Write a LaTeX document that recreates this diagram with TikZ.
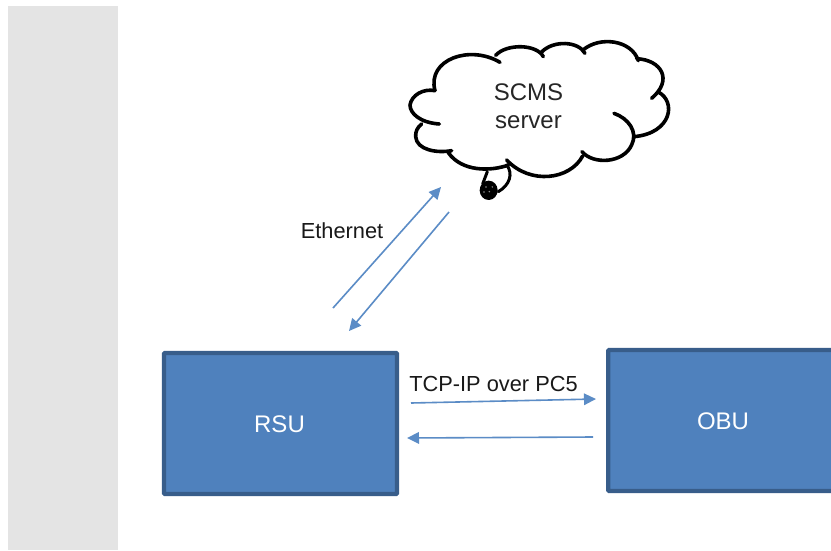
\documentclass[tikz,border=0pt]{standalone}
\usepackage{fontspec}
\setmainfont{Liberation Sans}
\usetikzlibrary{arrows.meta}
\definecolor{boxfill}{HTML}{4F81BD}
\definecolor{boxline}{HTML}{385D8A}
\definecolor{arrowblue}{HTML}{5B8CC6}
\definecolor{panel}{HTML}{E4E4E4}
\tikzset{
  boxnode/.style={draw=boxline,fill=boxfill,line width=4.4pt,rounded corners=1pt,inner sep=0pt,
    text=white,font=\fontsize{24}{26}\selectfont},
  link/.style={draw=arrowblue,line width=1.6pt,-{Triangle[length=12pt,width=11.5pt]}},
  lbl/.style={text=black!90,font=\fontsize{21.8}{24}\selectfont,inner sep=0pt},
  cloudline/.style={draw=black,line width=3.6pt,line cap=round,line join=round}
}
\begin{document}
\begin{tikzpicture}[x=1pt,y=-1pt]
\useasboundingbox (0,0) rectangle (831,550);
\fill[white] (0,0) rectangle (831,550);
\fill[panel] (8,6) rectangle (118,550);
% cloud, coordinates from a 3x crop with origin (400,30)
\begin{scope}[shift={(400,30)},x=0.3333pt,y=-0.3333pt]
\draw[cloudline]
  (105,182) .. controls (80,88) and (210,43) .. (300,97)
  (287,76) .. controls (320,40) and (410,42) .. (430,80)
  (425,66) .. controls (460,30) and (535,33) .. (555,70)
  (549,60) .. controls (600,17) and (695,30) .. (715,92)
  (710,86) .. controls (785,90) and (820,150) .. (755,205)
  (775,186) .. controls (830,215) and (815,310) .. (702,320)
  (642,250) .. controls (685,265) and (715,305) .. (695,345)
  (695,345) .. controls (670,400) and (580,405) .. (546,365)
  (548,378) .. controls (510,450) and (390,465) .. (320,390)
  (326,405) .. controls (270,425) and (185,425) .. (145,368)
  (155,362) .. controls (110,370) and (50,360) .. (47,320) .. controls (46,305) and (52,292) .. (65,282)
  (118,282) .. controls (60,278) and (30,250) .. (30,225) .. controls (35,195) and (70,175) .. (105,182);
\draw[draw=black,line width=3pt,line cap=round]
  (262,425) -- (248,462)
  (320,405) .. controls (340,430) and (330,465) .. (295,485);
\fill[black] (266,481) ellipse [x radius=27,y radius=29];
\fill[black!45] (258,471) circle (2.5) (277,471) circle (2.5) (268,485) circle (2.5) (252,486) circle (2.5);
\end{scope}
\node[inner sep=0pt,font=\fontsize{24}{28}\selectfont,text=black!85,align=center] (scms) at (528.5,106.5) {SCMS\\server};
% boxes
\node[boxnode,minimum width=233pt,minimum height=141pt] (rsu) at (280.5,423.5) {};
\node[text=white,font=\fontsize{24}{26}\selectfont,inner sep=0pt] (rsulabel) at (279.5,424) {RSU};
\node[boxnode,minimum width=233pt,minimum height=141pt,anchor=west] (obu) at (606,420.5) {};
\node[text=white,font=\fontsize{24}{26}\selectfont,inner sep=0pt] (obulabel) at (723,421) {OBU};
% free ends of the links
\coordinate (e1s) at (333,308);
\coordinate (e1t) at (441,187);
\coordinate (e2s) at (449,212);
\coordinate (e2t) at (349,331);
\coordinate (p1s) at (411,403);
\coordinate (p1t) at (596,399);
\coordinate (p2s) at (593,437);
\coordinate (p2t) at (407,438);
\draw[link] (e1s) -- (e1t);
\draw[link] (e2s) -- (e2t);
\draw[link] (p1s) -- (p1t);
\draw[link] (p2s) -- (p2t);
\node[lbl] (eth) at (342,231) {Ethernet};
\node[lbl] (tcp) at (493.5,384) {TCP-IP over PC5};
\end{tikzpicture}
\end{document}
